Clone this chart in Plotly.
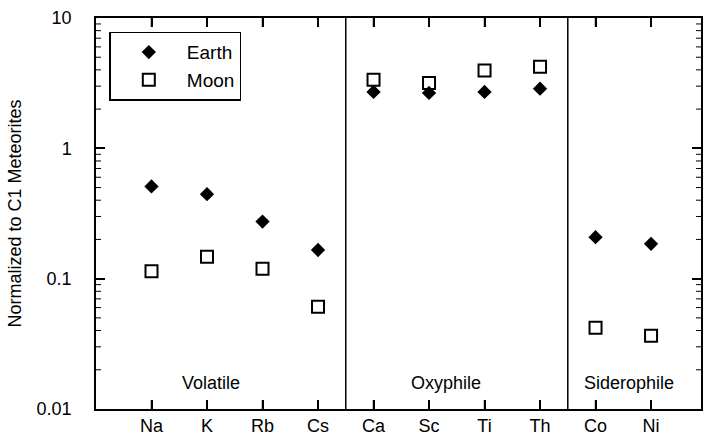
import plotly.graph_objects as go

elements = ["Na", "K", "Rb", "Cs", "Ca", "Sc", "Ti", "Th", "Co", "Ni"]
earth = [0.51, 0.445, 0.274, 0.166, 2.71, 2.66, 2.71, 2.87, 0.208, 0.185]
moon = [0.114, 0.147, 0.119, 0.0608, 3.36, 3.17, 3.96, 4.22, 0.042, 0.0365]
groups = ["Volatile", "Oxyphile", "Siderophile"]
group_centers = [1.08, 5.3, 8.6]
dividers = [3.5, 7.5]
y_ticks = [0.01, 0.1, 1, 10]
y_ticklabels = ["0.01", "0.1", "1", "10"]

xs = list(range(len(elements)))
font = "Liberation Sans"
minor_vals = [m * 10 ** e for e in range(-2, 1) for m in range(2, 10)]
TC = "black"

fig = go.Figure()
fig.add_trace(go.Scatter(x=xs, y=earth, mode="markers", name="Earth",
                         marker=dict(symbol="diamond", size=11, color="black")))
fig.add_trace(go.Scatter(x=xs, y=moon, mode="markers", name="Moon",
                         marker=dict(symbol="square-open", size=12, color="black",
                                     line=dict(width=2, color="black"))))

tick_line = dict(color=TC, width=1.5)
for d in dividers:
    fig.add_shape(type="line", xref="x", yref="paper", x0=d, x1=d, y0=0, y1=1,
                  line=dict(color="black", width=1.5), opacity=1, layer="above")

# category ticks on bottom and top axes (inside)
for x in xs:
    fig.add_shape(type="line", xref="x", yref="paper", x0=x, x1=x,
                  ysizemode="pixel", yanchor=0, y0=0, y1=9, line=tick_line, opacity=1)
    fig.add_shape(type="line", xref="x", yref="paper", x0=x, x1=x,
                  ysizemode="pixel", yanchor=1, y0=0, y1=-9, line=tick_line, opacity=1)

# minor log ticks on left and right axes (inside)
for v in minor_vals:
    fig.add_shape(type="line", yref="y", xref="paper", y0=v, y1=v,
                  xsizemode="pixel", xanchor=0, x0=0, x1=5,
                  line=dict(color=TC, width=1), opacity=1)
    fig.add_shape(type="line", yref="y", xref="paper", y0=v, y1=v,
                  xsizemode="pixel", xanchor=1, x0=0, x1=-5,
                  line=dict(color=TC, width=1), opacity=1)

for g, c in zip(groups, group_centers):
    fig.add_annotation(x=c, y=0.035, xref="x", yref="paper", text=g, showarrow=False,
                       yanchor="bottom", font=dict(size=18, color="black", family=font))

fig.update_layout(
    template="simple_white",
    width=708, height=441,
    margin=dict(l=96, r=5, t=18, b=30),
    paper_bgcolor="white", plot_bgcolor="white",
    font=dict(family=font, size=18, color="black"),
    showlegend=True,
    legend=dict(x=0.022, y=0.965, xanchor="left", yanchor="top",
                bordercolor="black", borderwidth=1.5, bgcolor="white",
                font=dict(size=19), itemwidth=66,
                tracegroupgap=2),
)
fig.update_xaxes(range=[-1.0, 9.9], tickmode="array", tickvals=xs, ticktext=elements,
                 ticks="inside", ticklen=9, tickwidth=1.5, tickcolor="black",
                 showline=True, linecolor="black", linewidth=1.5, mirror="allticks",
                 showgrid=False, zeroline=False, tickfont=dict(size=18))
fig.update_yaxes(type="log", range=[-2, 1], tickmode="array", tickvals=y_ticks,
                 ticktext=y_ticklabels, ticks="inside", ticklen=9, tickwidth=1.5,
                 tickcolor="black", showline=True, linecolor="black", linewidth=1.5,
                 mirror="allticks", showgrid=False, zeroline=False, tickfont=dict(size=18),
                 ticklabelstandoff=19,
                 title=dict(text="Normalized to C1 Meteorites", font=dict(size=18), standoff=10))

fig.write_html("out.html", config={"displayModeBar": False},
               post_script="document.body.style.margin='0';document.body.style.padding='0';document.body.style.overflow='hidden';")
